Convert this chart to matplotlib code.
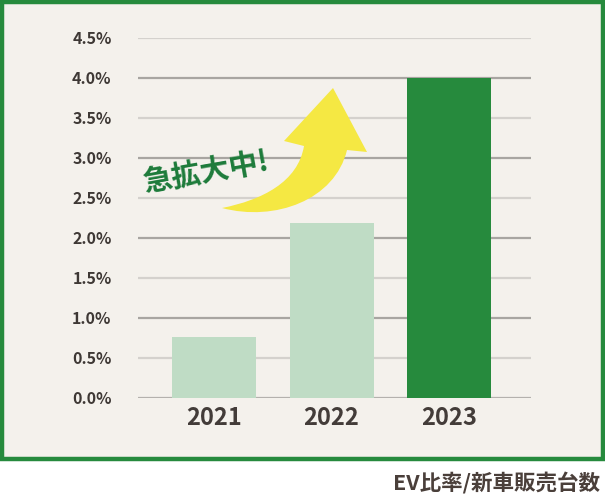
import matplotlib.pyplot as plt
from matplotlib.patches import Rectangle, PathPatch
from matplotlib.path import Path

plt.rcParams['font.family'] = ['Noto Sans CJK JP', 'DejaVu Sans']

# data
years = ['2021', '2022', '2023']
ev_share = [0.76, 2.18, 4.0]
bar_colors = ['#bfdcc5', '#bfdcc5', '#268a3d']
y_ticks = [0.0, 0.5, 1.0, 1.5, 2.0, 2.5, 3.0, 3.5, 4.0, 4.5]

W, H = 605, 501
fig = plt.figure(figsize=(W / 100, H / 100), dpi=100)
fig.patch.set_facecolor('white')

# framed panel, kept behind the axes
frame = Rectangle((2 / W, 1 - 459 / H), 601 / W, 457 / H, transform=fig.transFigure,
                  facecolor='#f4f1ec', edgecolor='#268a3d', linewidth=3.2, zorder=-10)
fig.patches.append(frame)

ax = fig.add_axes([138 / W, 1 - 397.5 / H, (531 - 138) / W, (397.5 - 38) / H])
ax.set_facecolor('none')

x = list(range(len(years)))
# grid lines: darker at whole percents
for t in y_ticks:
    if t == 0:
        c = '#b4b1ad'
    elif t % 1 == 0:
        c = '#a8a5a1'
    else:
        c = '#d4d1cd'
    ax.axhline(t, color=c, linewidth=1.6, zorder=1)

ax.bar(x, ev_share, width=0.715, color=bar_colors, zorder=2)

ax.set_xlim(-0.647, 2.698)
ax.set_ylim(0, 4.5)
ax.set_yticks(y_ticks)
ax.set_yticklabels([f'{t:.1f}%' for t in y_ticks], fontsize=11.5, fontweight='bold', color='#3e3835')
ax.set_xticks(x)
ax.set_xticklabels(years, fontsize=17, fontweight='bold', color='#433c39')
ax.tick_params(axis='y', length=0, pad=19)
ax.tick_params(axis='x', length=0, pad=6)
for s in ax.spines.values():
    s.set_visible(False)

# yellow curved arrow (pixel coords, top origin)
pts = [(222, 208), (262, 200), (298, 182), (304, 146),
       (284, 141), (333, 88), (367, 152), (347, 150),
       (335, 200), (275, 222), (222, 208), (222, 208)]
codes = [Path.MOVETO, Path.CURVE4, Path.CURVE4, Path.CURVE4,
         Path.LINETO, Path.LINETO, Path.LINETO, Path.LINETO,
         Path.CURVE4, Path.CURVE4, Path.CURVE4, Path.CLOSEPOLY]
arrow = Path([(px / W, 1 - py / H) for px, py in pts], codes)
fig.patches.append(PathPatch(arrow, transform=fig.transFigure, facecolor='#f5e843',
                             edgecolor='none', zorder=3))

fig.text(206 / W, 1 - 172 / H, '急拡大中!', fontsize=21, fontweight='bold', color='#1d7b3a',
         rotation=10, ha='center', va='center', zorder=4)

fig.text(600 / W, 1 - 483 / H, 'EV比率/新車販売台数', fontsize=15.5, fontweight='bold',
         color='#4a3f3a', ha='right', va='center')

fig.savefig('out.png', dpi=100)
